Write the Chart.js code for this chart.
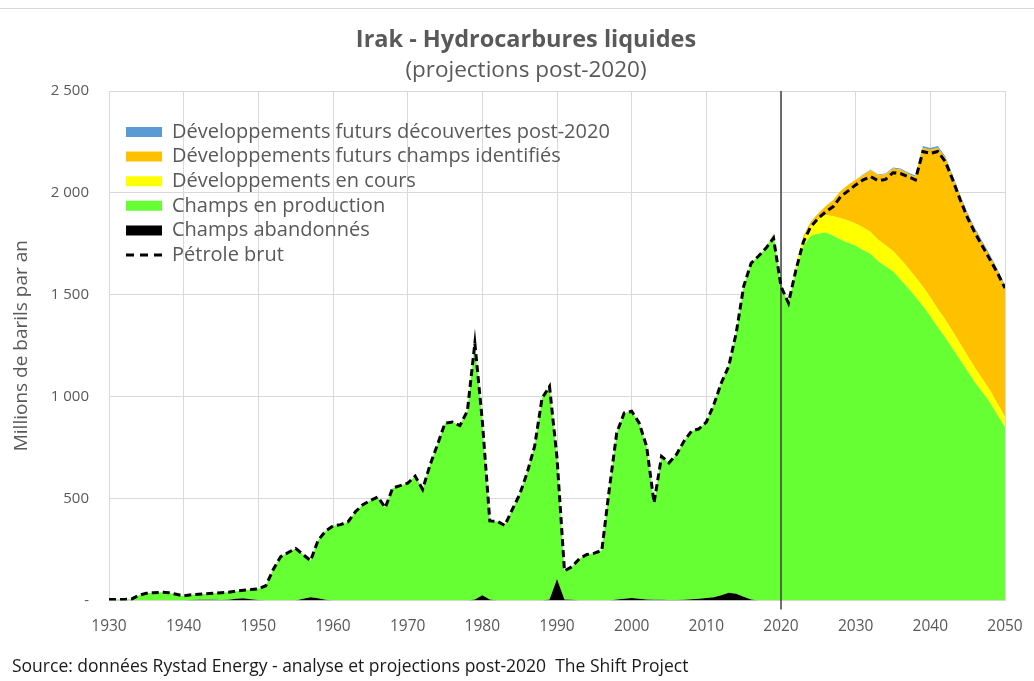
<!DOCTYPE html>
<html>
<head>
<meta charset="utf-8">
<script src="https://cdn.jsdelivr.net/npm/chart.js@4.4.0/dist/chart.umd.min.js"></script>
<style>
  html, body { margin: 0; padding: 0; background: #ffffff; }
  #wrap { position: relative; width: 1034px; height: 681px; }
  #chart { display: block; }
  #frameTop { position: absolute; left: 0; top: 8px; width: 1034px; height: 1px; background: #d9d9d9; }
  #source { position: absolute; left: 12px; top: 655px; font-family: 'Open Sans', sans-serif; font-size: 17.5px; line-height: 20px; color: #1a1a1a; white-space: pre; }
</style>
</head>
<body>
<div id="wrap">
  <canvas id="chart" width="1034" height="681"></canvas>
  <div id="frameTop"></div>
  <div id="source">Source: données Rystad Energy - analyse et projections post-2020  The Shift Project</div>
</div>
<script>
// ---------- DATA ----------
const years = [
  1930,1931,1932,1933,1934,1935,1936,1937,1938,1939,
  1940,1941,1942,1943,1944,1945,1946,1947,1948,1949,
  1950,1951,1952,1953,1954,1955,1956,1957,1958,1959,
  1960,1961,1962,1963,1964,1965,1966,1967,1968,1969,
  1970,1971,1972,1973,1974,1975,1976,1977,1978,1979,
  1980,1981,1982,1983,1984,1985,1986,1987,1988,1989,
  1990,1991,1992,1993,1994,1995,1996,1997,1998,1999,
  2000,2001,2002,2003,2004,2005,2006,2007,2008,2009,
  2010,2011,2012,2013,2014,2015,2016,2017,2018,2019,
  2020,2021,2022,2023,2024,2025,2026,2027,2028,2029,
  2030,2031,2032,2033,2034,2035,2036,2037,2038,2039,
  2040,2041,2042,2043,2044,2045,2046,2047,2048,2049,
  2050
];

// Champs abandonnés (Mb/an)
const abandonedFields = [
  0,0,0,0,0,0,0,0,0,0,
  0,2,3,3,3,2,3,8,10,6,
  2,0,0,0,0,0,8,15,10,3,
  0,0,0,0,0,0,0,0,0,0,
  0,0,0,0,0,0,0,0,0,5,
  25,5,0,0,0,0,0,0,0,5,
  105,5,3,0,0,0,0,0,4,8,
  12,8,5,3,3,2,2,3,6,8,
  12,15,25,38,33,18,5,0,0,0,
  0,0,0,0,0,0,0,0,0,0,
  0,0,0,0,0,0,0,0,0,0,
  0,0,0,0,0,0,0,0,0,0,
  0
];

// Champs en production
const producingFields = [
  5,5,5,6,25,35,38,40,38,30,
  22,26,27,29,32,36,37,37,40,47,
  55,72,152,215,235,255,217,180,285,337,
  365,372,385,435,470,490,508,455,552,563,
  575,610,545,665,765,870,875,858,930,1257,
  855,385,388,368,445,520,626,756,993,1045,
  595,140,162,205,225,232,245,544,818,912,
  916,863,751,476,704,673,714,778,824,834,
  863,945,1042,1111,1279,1523,1650,1690,1729,1800,
  1541,1459,1610,1740,1790,1800,1805,1790,1770,1755,
  1740,1720,1700,1665,1640,1615,1575,1535,1490,1445,
  1395,1340,1290,1235,1180,1125,1070,1020,970,910,
  850
];

// Développements en cours
const ongoingDevelopments = [
  0,0,0,0,0,0,0,0,0,0,
  0,0,0,0,0,0,0,0,0,0,
  0,0,0,0,0,0,0,0,0,0,
  0,0,0,0,0,0,0,0,0,0,
  0,0,0,0,0,0,0,0,0,0,
  0,0,0,0,0,0,0,0,0,0,
  0,0,0,0,0,0,0,0,0,0,
  0,0,0,0,0,0,0,0,0,0,
  0,0,0,0,0,0,0,0,0,0,
  0,0,15,35,50,70,85,95,105,110,
  110,110,108,105,103,100,100,98,97,95,
  93,90,88,85,80,75,70,65,60,55,
  50
];

// Développements futurs champs identifiés
const futureIdentified = [
  0,0,0,0,0,0,0,0,0,0,
  0,0,0,0,0,0,0,0,0,0,
  0,0,0,0,0,0,0,0,0,0,
  0,0,0,0,0,0,0,0,0,0,
  0,0,0,0,0,0,0,0,0,0,
  0,0,0,0,0,0,0,0,0,0,
  0,0,0,0,0,0,0,0,0,0,
  0,0,0,0,0,0,0,0,0,0,
  0,0,0,0,0,0,0,0,0,0,
  0,0,15,15,20,30,45,80,135,175,
  215,257,304,316,348,405,440,461,492,682,
  724,792,794,757,722,692,677,667,657,652,
  637
];

// Développements futurs découvertes post-2020
const futureDiscoveries = [
  0,0,0,0,0,0,0,0,0,0,
  0,0,0,0,0,0,0,0,0,0,
  0,0,0,0,0,0,0,0,0,0,
  0,0,0,0,0,0,0,0,0,0,
  0,0,0,0,0,0,0,0,0,0,
  0,0,0,0,0,0,0,0,0,0,
  0,0,0,0,0,0,0,0,0,0,
  0,0,0,0,0,0,0,0,0,0,
  0,0,0,0,0,0,0,0,0,0,
  0,0,0,0,0,0,0,0,0,0,
  0,3,3,4,4,5,5,6,6,8,
  8,8,8,8,8,8,8,8,8,8,
  8
];

// Pétrole brut
const crudeOil = [
  5,5,5,6,25,35,38,40,38,30,
  22,28,30,32,35,38,40,45,50,53,
  57,72,152,215,235,255,225,195,295,340,
  365,372,385,435,470,490,508,455,552,563,
  575,610,545,665,765,870,875,858,930,1262,
  880,390,388,368,445,520,626,756,993,1050,
  700,145,165,205,225,232,245,544,822,920,
  928,871,756,479,707,675,716,781,830,842,
  875,960,1067,1149,1312,1541,1655,1690,1729,1778,
  1541,1459,1622,1760,1835,1876,1908,1933,1982,2010,
  2039,2064,2080,2060,2066,2099,2095,2080,2064,2203,
  2194,2203,2154,2064,1966,1876,1802,1737,1672,1606,
  1533
];

const seriesLabels = [
  'Champs abandonnés',
  'Champs en production',
  'Développements en cours',
  'Développements futurs champs identifiés',
  'Développements futurs découvertes post-2020',
  'Pétrole brut'
];

const xTickValues = [1930,1940,1950,1960,1970,1980,1990,2000,2010,2020,2030,2040,2050];
const xTickLabels = ['1930','1940','1950','1960','1970','1980','1990','2000','2010','2020','2030','2040','2050'];
const yTickValues = [0,500,1000,1500,2000,2500];
const yTickLabels = ['-','500','1 000','1 500','2 000','2 500'];
const projectionYear = 2020;

// ---------- CHART ----------
const FONT = "'Open Sans', sans-serif";
const TEXT = '#595959';
const GRID = '#d9d9d9';
Chart.defaults.font.family = FONT;
Chart.defaults.color = TEXT;

const toPoints = (arr) => years.map((yr, i) => ({ x: yr, y: arr[i] }));

function areaDataset(label, values, color, fill) {
  return {
    label: label,
    data: toPoints(values),
    backgroundColor: color,
    borderColor: color,
    borderWidth: 0,
    pointRadius: 0,
    pointHoverRadius: 0,
    tension: 0,
    fill: fill,
    stack: 'liquids',
    pointStyle: 'rect'
  };
}

const datasets = [
  areaDataset(seriesLabels[0], abandonedFields, '#000000', 'origin'),
  areaDataset(seriesLabels[1], producingFields, '#66ff33', '-1'),
  areaDataset(seriesLabels[2], ongoingDevelopments, '#ffff00', '-1'),
  areaDataset(seriesLabels[3], futureIdentified, '#ffc000', '-1'),
  areaDataset(seriesLabels[4], futureDiscoveries, '#5b9bd5', '-1'),
  {
    label: seriesLabels[5],
    data: toPoints(crudeOil),
    borderColor: '#000000',
    backgroundColor: 'rgba(0,0,0,0)',
    borderWidth: 3,
    borderDash: [7, 4],
    pointRadius: 0,
    pointHoverRadius: 0,
    tension: 0,
    fill: false,
    stack: 'crude',
    order: -1,
    pointStyle: 'line',
    isCrude: true
  }
];

const legendOrder = [4, 3, 2, 1, 0, 5];

const legendPlacement = {
  id: 'legendPlacement',
  afterLayout(chart) {
    const lg = chart.legend;
    const ca = chart.chartArea;
    if (!lg || !ca) return;
    lg.left = ca.left + 12.4;
    lg.top = ca.top + 26.4;
    lg.right = ca.right;
    lg.bottom = ca.bottom;
  }
};

const projectionLine = {
  id: 'projectionLine',
  beforeDatasetDraw(chart, args) {
    if (args.index !== 5) return;
    const { ctx, chartArea, scales } = chart;
    const x = scales.x.getPixelForValue(projectionYear);
    ctx.save();
    ctx.strokeStyle = '#404040';
    ctx.lineWidth = 1.5;
    ctx.beginPath();
    ctx.moveTo(x, chartArea.top);
    ctx.lineTo(x, chartArea.bottom + 9);
    ctx.stroke();
    ctx.restore();
  }
};

new Chart(document.getElementById('chart'), {
  type: 'line',
  data: { datasets: datasets },
  plugins: [legendPlacement, projectionLine],
  options: {
    responsive: false,
    animation: false,
    devicePixelRatio: 1,
    layout: { padding: { left: 18, right: 0, top: 0, bottom: 28 } },
    interaction: { mode: 'nearest', intersect: false },
    plugins: {
      tooltip: { enabled: false },
      title: {
        display: true,
        text: 'Irak - Hydrocarbures liquides',
        color: TEXT,
        font: { family: FONT, size: 23.5, weight: 'bold' },
        padding: { top: 25.9, bottom: 3.4 }
      },
      subtitle: {
        display: true,
        text: '(projections post-2020)',
        color: TEXT,
        font: { family: FONT, size: 22.5, weight: 'normal' },
        padding: { top: 0, bottom: 6.5 }
      },
      legend: {
        position: 'chartArea',
        align: 'start',
        labels: {
          usePointStyle: true,
          pointStyleWidth: 36,
          boxHeight: 10,
          padding: 4.6,
          color: TEXT,
          font: { family: FONT, size: 20 },
          generateLabels(chart) {
            const items = Chart.defaults.plugins.legend.labels.generateLabels(chart);
            const byIndex = {};
            items.forEach(it => { byIndex[it.datasetIndex] = it; });
            return legendOrder.map(i => {
              const it = byIndex[i];
              const ds = chart.data.datasets[i];
              if (ds.isCrude) {
                it.pointStyle = 'line';
                it.lineDash = [8, 6];
                it.lineWidth = 3;
                it.strokeStyle = '#000000';
                it.fillStyle = 'rgba(0,0,0,0)';
              } else {
                it.pointStyle = 'rect';
                it.lineWidth = 0;
                it.fillStyle = ds.backgroundColor;
              }
              return it;
            });
          }
        }
      }
    },
    scales: {
      x: {
        type: 'linear',
        min: 1930,
        max: 2050,
        afterBuildTicks(scale) { scale.ticks = xTickValues.map(v => ({ value: v })); },
        afterFit(scale) { scale.paddingLeft = 0; scale.paddingRight = 0; },
        ticks: {
          autoSkip: false,
          maxRotation: 0,
          color: TEXT,
          font: { family: FONT, size: 15.5 },
          padding: 17,
          callback: (v) => { const i = xTickValues.indexOf(v); return i >= 0 ? xTickLabels[i] : ''; }
        },
        grid: { color: GRID, lineWidth: 1, drawTicks: false },
        border: { display: true, color: GRID }
      },
      y: {
        type: 'linear',
        stacked: true,
        min: 0,
        max: 2500,
        afterBuildTicks(scale) { scale.ticks = yTickValues.map(v => ({ value: v })); },
        afterFit(scale) { scale.width = 91; },
        ticks: {
          color: TEXT,
          font: { family: FONT, size: 15 },
          padding: 20,
          callback: (v) => { const i = yTickValues.indexOf(v); return i >= 0 ? yTickLabels[i] : ''; }
        },
        grid: { color: GRID, lineWidth: 1, drawTicks: false },
        border: { display: false },
        title: {
          display: true,
          text: 'Millions de barils par an',
          color: TEXT,
          font: { family: FONT, size: 19 },
          padding: { top: -7.4, bottom: 0 }
        }
      },
      yRight: {
        type: 'linear',
        position: 'right',
        display: true,
        grid: { display: false },
        ticks: { display: false },
        border: { display: false },
        afterFit(scale) { scale.width = 29; }
      }
    }
  }
});
</script>
</body>
</html>
